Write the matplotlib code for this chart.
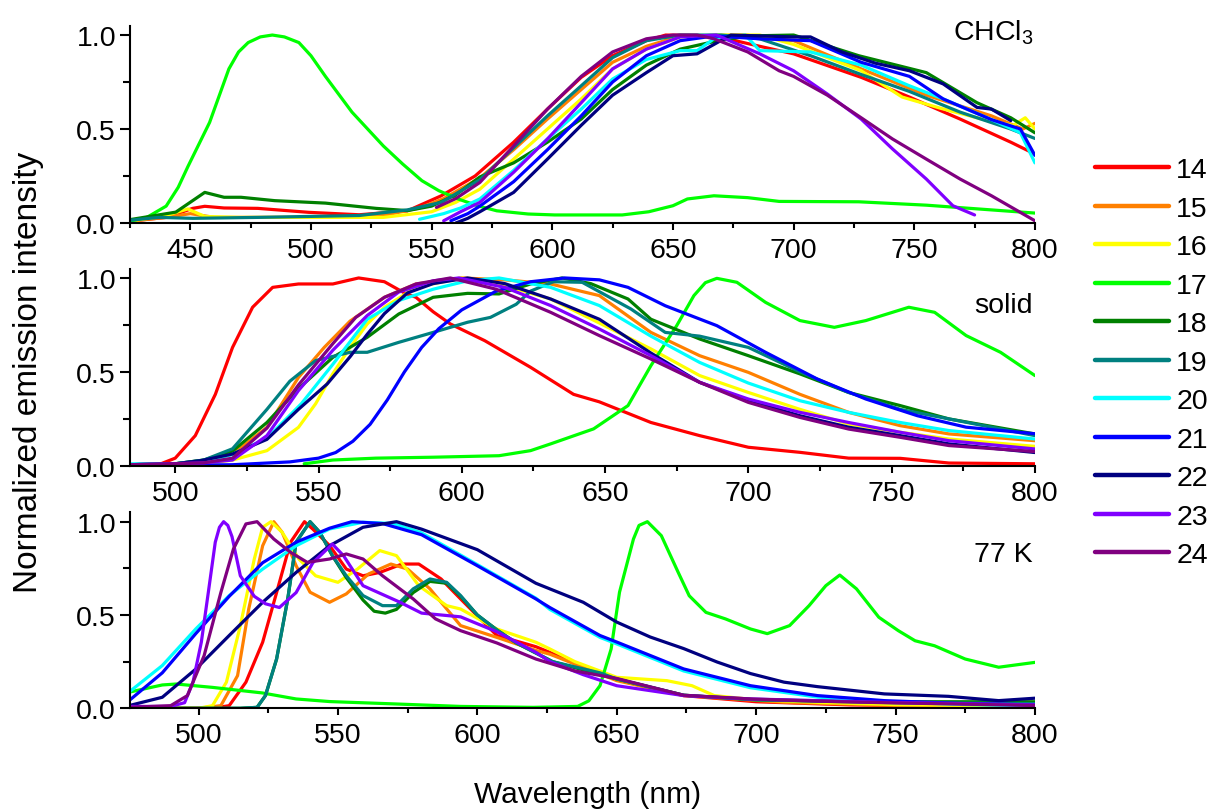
import matplotlib
matplotlib.use("Agg")
import matplotlib.pyplot as plt
from matplotlib.ticker import MultipleLocator, FormatStrFormatter
from matplotlib.lines import Line2D

plt.rcParams["font.family"] = ["Liberation Sans", "DejaVu Sans"]
plt.rcParams["mathtext.default"] = "regular"

labels = ["14", "15", "16", "17", "18", "19", "20", "21", "22", "23", "24"]
colors = ["#ff0000", "#ff8000", "#ffff00", "#00ff00", "#008000", "#008080",
          "#00ffff", "#0000ff", "#000080", "#8000ff", "#800080"]

# ---------------------------------------------------------------- CHCl3
c14_x = [425, 440, 451, 456, 464, 478, 499, 520, 540, 554, 568, 584, 598, 612, 625, 639, 647, 667, 686, 700, 728, 748, 769, 790, 800]
c14_y = [0.01, 0.03, 0.078, 0.089, 0.08, 0.078, 0.057, 0.044, 0.065, 0.145, 0.25, 0.43, 0.606, 0.775, 0.89, 0.97, 1.0, 0.996, 0.94, 0.9, 0.775, 0.67, 0.553, 0.43, 0.367]
c15_x = [425, 440, 450, 460, 500, 530, 545, 555, 570, 584, 598, 612, 625, 639, 653, 680, 700, 728, 755, 782, 795, 800]
c15_y = [0.01, 0.03, 0.05, 0.03, 0.03, 0.04, 0.08, 0.13, 0.24, 0.39, 0.553, 0.71, 0.855, 0.94, 0.995, 1.0, 0.97, 0.82, 0.68, 0.57, 0.5, 0.53]
c16_x = [425, 440, 449, 456, 470, 500, 530, 550, 560, 570, 584, 598, 612, 625, 639, 653, 670, 686, 700, 728, 745, 761, 782, 791, 796, 800]
c16_y = [0.01, 0.04, 0.075, 0.035, 0.03, 0.03, 0.03, 0.06, 0.11, 0.18, 0.34, 0.5, 0.66, 0.82, 0.925, 0.99, 1.0, 1.0, 0.95, 0.81, 0.67, 0.61, 0.54, 0.52, 0.56, 0.5]
c17_x = [425, 432, 440, 445, 449, 458, 466, 470, 474, 479, 484, 489, 495, 500, 506, 517, 530, 538, 546, 553, 561, 569, 577, 590, 601, 629, 640, 650, 656, 667, 681, 694, 727, 755, 800]
c17_y = [0.01, 0.03, 0.09, 0.19, 0.30, 0.535, 0.82, 0.91, 0.96, 0.99, 1.0, 0.99, 0.96, 0.89, 0.78, 0.59, 0.41, 0.314, 0.225, 0.172, 0.128, 0.092, 0.065, 0.048, 0.043, 0.043, 0.06, 0.092, 0.128, 0.145, 0.135, 0.115, 0.113, 0.095, 0.053]
c18_x = [425, 444, 456, 464, 471, 485, 506, 527, 540, 550, 560, 570, 584, 598, 612, 625, 639, 653, 667, 681, 700, 727, 755, 776, 790, 800]
c18_y = [0.018, 0.058, 0.163, 0.137, 0.137, 0.119, 0.106, 0.078, 0.066, 0.09, 0.15, 0.245, 0.32, 0.43, 0.553, 0.71, 0.84, 0.925, 0.965, 0.995, 1.0, 0.89, 0.80, 0.64, 0.56, 0.48]
c19_x = [425, 437, 451, 478, 520, 540, 554, 570, 584, 598, 612, 625, 639, 653, 670, 686, 707, 728, 748, 769, 790, 800]
c19_y = [0.015, 0.03, 0.025, 0.03, 0.04, 0.07, 0.11, 0.23, 0.40, 0.57, 0.73, 0.88, 0.97, 1.0, 1.0, 0.98, 0.89, 0.79, 0.70, 0.59, 0.5, 0.45]
c20_x = [545, 555, 562, 570, 584, 598, 612, 625, 639, 653, 660, 667, 680, 686, 707, 728, 748, 762, 782, 794, 800]
c20_y = [0.02, 0.05, 0.08, 0.128, 0.28, 0.447, 0.606, 0.766, 0.87, 0.917, 0.917, 0.98, 1.0, 0.917, 0.91, 0.84, 0.73, 0.66, 0.55, 0.48, 0.32]
c21_x = [558, 565, 570, 584, 598, 612, 625, 639, 653, 667, 686, 707, 728, 748, 762, 782, 794, 800]
c21_y = [0.012, 0.05, 0.09, 0.22, 0.39, 0.57, 0.75, 0.89, 0.97, 0.995, 0.98, 0.97, 0.855, 0.78, 0.66, 0.55, 0.5, 0.36]
c22_x = [560, 565, 570, 584, 598, 612, 625, 639, 650, 660, 667, 674, 700, 707, 720, 734, 748, 762, 776, 782, 790]
c22_y = [0.0, 0.025, 0.06, 0.163, 0.34, 0.52, 0.68, 0.80, 0.89, 0.9, 0.95, 1.0, 0.99, 0.99, 0.91, 0.85, 0.81, 0.74, 0.615, 0.606, 0.545]
c23_x = [555, 562, 570, 584, 598, 612, 625, 639, 653, 668, 686, 700, 714, 728, 741, 755, 766, 775]
c23_y = [0.012, 0.06, 0.11, 0.27, 0.447, 0.64, 0.82, 0.925, 0.99, 1.0, 0.9, 0.81, 0.686, 0.553, 0.394, 0.234, 0.092, 0.043]
c24_x = [552, 560, 570, 584, 598, 612, 625, 639, 650, 660, 667, 681, 694, 700, 714, 728, 741, 755, 769, 782, 800]
c24_y = [0.083, 0.13, 0.216, 0.41, 0.606, 0.78, 0.91, 0.98, 1.0, 1.0, 0.98, 0.91, 0.81, 0.78, 0.68, 0.56, 0.447, 0.34, 0.234, 0.145, 0.012]

# ---------------------------------------------------------------- solid
s14_x = [484, 495, 500, 507, 514, 520, 527, 534, 543, 555, 564, 573, 580, 584, 590, 596, 608, 624, 639, 648, 666, 683, 700, 718, 735, 753, 770, 800]
s14_y = [0.005, 0.01, 0.04, 0.16, 0.38, 0.63, 0.844, 0.95, 0.968, 0.968, 1.0, 0.98, 0.92, 0.897, 0.82, 0.755, 0.666, 0.524, 0.38, 0.34, 0.23, 0.16, 0.098, 0.071, 0.04, 0.039, 0.014, 0.01]
s15_x = [484, 500, 510, 520, 532, 543, 552, 561, 573, 584, 600, 615, 631, 648, 666, 683, 700, 718, 735, 753, 770, 800]
s15_y = [0.005, 0.01, 0.025, 0.062, 0.204, 0.47, 0.63, 0.77, 0.897, 0.968, 1.0, 0.99, 0.968, 0.906, 0.71, 0.586, 0.497, 0.38, 0.284, 0.213, 0.169, 0.133]
s16_x = [484, 510, 520, 532, 543, 549, 555, 561, 567, 573, 584, 600, 615, 631, 648, 666, 683, 700, 718, 735, 753, 770, 800]
s16_y = [0.003, 0.01, 0.03, 0.08, 0.204, 0.33, 0.49, 0.63, 0.755, 0.844, 0.95, 1.0, 0.96, 0.888, 0.76, 0.622, 0.48, 0.39, 0.30, 0.222, 0.178, 0.142, 0.103]
s17_x = [545, 555, 570, 590, 613, 624, 631, 646, 658, 666, 675, 681, 685, 689, 696, 706, 718, 730, 741, 756, 765, 776, 788, 800]
s17_y = [0.01, 0.03, 0.04, 0.045, 0.053, 0.08, 0.116, 0.196, 0.32, 0.533, 0.746, 0.906, 0.975, 0.998, 0.977, 0.87, 0.773, 0.737, 0.773, 0.844, 0.817, 0.693, 0.604, 0.48]
s18_x = [484, 500, 510, 520, 532, 543, 555, 567, 578, 590, 602, 613, 624, 635, 645, 658, 666, 683, 700, 718, 735, 753, 770, 800]
s18_y = [0.005, 0.01, 0.03, 0.078, 0.23, 0.41, 0.577, 0.684, 0.808, 0.897, 0.918, 0.915, 0.968, 1.0, 0.97, 0.888, 0.78, 0.675, 0.586, 0.489, 0.39, 0.32, 0.249, 0.169]
s19_x = [484, 500, 510, 520, 532, 540, 549, 561, 567, 578, 590, 602, 610, 619, 624, 632, 642, 659, 671, 683, 700, 718, 735, 753, 770, 800]
s19_y = [0.005, 0.01, 0.03, 0.09, 0.30, 0.45, 0.56, 0.604, 0.604, 0.657, 0.71, 0.764, 0.79, 0.86, 0.93, 0.98, 0.977, 0.835, 0.71, 0.69, 0.63, 0.50, 0.39, 0.30, 0.249, 0.16]
s20_x = [484, 500, 510, 520, 532, 544, 555, 567, 578, 590, 602, 613, 631, 648, 666, 683, 700, 718, 735, 753, 770, 800]
s20_y = [0.01, 0.01, 0.02, 0.06, 0.146, 0.33, 0.54, 0.78, 0.88, 0.94, 0.985, 1.0, 0.95, 0.853, 0.69, 0.55, 0.44, 0.346, 0.284, 0.23, 0.187, 0.142]
s21_x = [484, 520, 540, 550, 556, 562, 568, 574, 580, 586, 592, 600, 612, 624, 636, 648, 658, 671, 689, 706, 724, 741, 759, 776, 800]
s21_y = [0.0, 0.005, 0.02, 0.04, 0.07, 0.13, 0.22, 0.35, 0.5, 0.63, 0.73, 0.83, 0.93, 0.98, 1.0, 0.99, 0.95, 0.852, 0.746, 0.604, 0.462, 0.355, 0.266, 0.205, 0.17]
s22_x = [484, 500, 509, 520, 532, 543, 553, 561, 567, 573, 581, 590, 602, 615, 631, 648, 666, 683, 700, 718, 735, 753, 770, 800]
s22_y = [0.005, 0.01, 0.027, 0.062, 0.14, 0.30, 0.435, 0.58, 0.70, 0.81, 0.92, 0.97, 1.0, 0.97, 0.888, 0.78, 0.6, 0.444, 0.346, 0.266, 0.205, 0.16, 0.116, 0.07]
s23_x = [484, 500, 510, 520, 532, 543, 555, 567, 578, 590, 599, 615, 631, 648, 666, 683, 700, 718, 735, 753, 770, 800]
s23_y = [0.005, 0.01, 0.015, 0.03, 0.16, 0.40, 0.615, 0.80, 0.925, 0.985, 1.0, 0.95, 0.853, 0.728, 0.586, 0.444, 0.355, 0.284, 0.23, 0.178, 0.133, 0.089]
s24_x = [484, 500, 510, 520, 532, 543, 555, 563, 573, 584, 596, 612, 631, 648, 666, 683, 700, 718, 735, 753, 770, 800]
s24_y = [0.005, 0.01, 0.015, 0.04, 0.20, 0.43, 0.65, 0.79, 0.897, 0.968, 1.0, 0.94, 0.817, 0.693, 0.568, 0.444, 0.337, 0.257, 0.195, 0.151, 0.107, 0.075]

# ---------------------------------------------------------------- 77 K
k14_x = [475, 505, 511, 517, 523, 528, 533, 538, 541, 547, 553, 559, 565, 573, 579, 587, 594, 607, 621, 635, 650, 674, 700, 734, 800]
k14_y = [0.0, 0.0, 0.014, 0.14, 0.354, 0.62, 0.89, 1.0, 0.96, 0.872, 0.746, 0.71, 0.728, 0.773, 0.773, 0.693, 0.586, 0.39, 0.33, 0.245, 0.157, 0.068, 0.035, 0.018, 0.005]
k15_x = [475, 500, 508, 514, 518, 523, 527, 530, 535, 540, 547, 553, 561, 569, 575, 583, 594, 607, 621, 626, 650, 674, 710, 750, 800]
k15_y = [0.0, 0.0, 0.014, 0.175, 0.532, 0.871, 1.0, 0.943, 0.764, 0.622, 0.568, 0.613, 0.72, 0.773, 0.746, 0.64, 0.443, 0.38, 0.31, 0.29, 0.148, 0.068, 0.032, 0.015, 0.005]
k16_x = [475, 500, 505, 510, 515, 520, 523, 526, 530, 536, 542, 550, 557, 565, 571, 579, 589, 594, 607, 621, 626, 635, 650, 668, 677, 685, 700, 725, 750, 800]
k16_y = [0.0, 0.0, 0.014, 0.14, 0.443, 0.80, 0.97, 1.0, 0.943, 0.80, 0.71, 0.675, 0.746, 0.845, 0.818, 0.657, 0.55, 0.532, 0.425, 0.354, 0.318, 0.25, 0.166, 0.148, 0.121, 0.068, 0.045, 0.03, 0.02, 0.01]
k17_x = [475, 487, 492, 505, 523, 535, 547, 571, 594, 620, 636, 640, 644, 648, 651, 656, 658, 661, 663, 666, 672, 676, 682, 689, 698, 704, 712, 719, 725, 730, 736, 744, 751, 757, 764, 775, 787, 800]
k17_y = [0.086, 0.125, 0.13, 0.112, 0.082, 0.05, 0.036, 0.023, 0.01, 0.005, 0.01, 0.04, 0.121, 0.318, 0.622, 0.907, 0.98, 1.0, 0.97, 0.925, 0.73, 0.603, 0.514, 0.479, 0.425, 0.40, 0.443, 0.55, 0.657, 0.714, 0.64, 0.488, 0.416, 0.362, 0.335, 0.264, 0.22, 0.246]
k18_x = [475, 515, 521, 524, 528, 532, 535, 540, 543.5, 548, 553, 559, 563, 567, 571, 577, 583, 589, 594, 600, 607, 614, 627, 650, 674, 700, 750, 800]
k18_y = [0.0, 0.0, 0.005, 0.068, 0.264, 0.586, 0.89, 1.0, 0.943, 0.818, 0.70, 0.58, 0.52, 0.51, 0.53, 0.62, 0.68, 0.67, 0.60, 0.50, 0.42, 0.35, 0.25, 0.157, 0.07, 0.045, 0.035, 0.035]
k19_x = [475, 515, 521, 524, 528, 532, 535, 540, 543.5, 548, 553, 559, 566, 571, 577, 583, 589, 594, 600, 607, 614, 627, 644, 650, 674, 700, 750, 800]
k19_y = [0.0, 0.0, 0.005, 0.068, 0.264, 0.586, 0.89, 1.0, 0.943, 0.818, 0.71, 0.604, 0.55, 0.55, 0.64, 0.693, 0.675, 0.604, 0.50, 0.42, 0.35, 0.25, 0.19, 0.157, 0.07, 0.045, 0.03, 0.025]
k20_x = [475, 487, 499, 511, 523, 535, 547, 559, 570, 580, 600, 621, 626, 644, 650, 674, 698, 722, 746, 775, 800]
k20_y = [0.086, 0.229, 0.425, 0.604, 0.746, 0.871, 0.961, 0.997, 0.99, 0.94, 0.77, 0.59, 0.53, 0.38, 0.345, 0.2, 0.11, 0.06, 0.035, 0.02, 0.012]
k21_x = [475, 487, 499, 511, 523, 535, 547, 555, 566, 580, 600, 621, 626, 644, 650, 674, 698, 722, 746, 775, 800]
k21_y = [0.04, 0.19, 0.40, 0.60, 0.78, 0.89, 0.965, 1.0, 0.99, 0.93, 0.764, 0.586, 0.54, 0.39, 0.355, 0.211, 0.121, 0.068, 0.041, 0.025, 0.018]
k22_x = [475, 487, 499, 511, 523, 535, 547, 559, 571, 580, 600, 621, 638, 650, 662, 674, 686, 698, 710, 722, 746, 769, 787, 800]
k22_y = [0.014, 0.059, 0.21, 0.39, 0.568, 0.728, 0.871, 0.97, 1.0, 0.96, 0.85, 0.67, 0.568, 0.462, 0.382, 0.32, 0.248, 0.186, 0.14, 0.116, 0.077, 0.064, 0.041, 0.054]
k23_x = [475, 490, 495, 498, 501, 503.5, 506, 507.5, 509, 510.5, 512, 515, 520, 524, 529, 535, 541, 548, 552, 559, 566, 572, 580, 594, 607, 621, 626, 638, 650, 674, 698, 722, 746, 800]
k23_y = [0.01, 0.01, 0.03, 0.14, 0.354, 0.62, 0.89, 0.97, 1.0, 0.98, 0.92, 0.71, 0.60, 0.56, 0.54, 0.62, 0.78, 0.88, 0.818, 0.657, 0.61, 0.57, 0.51, 0.49, 0.41, 0.30, 0.25, 0.18, 0.121, 0.068, 0.05, 0.041, 0.032, 0.018]
k24_x = [475, 490, 496, 502, 508, 512.5, 517, 521, 527, 533, 539, 547, 553, 559, 566, 577, 585, 594, 607, 621, 635, 650, 674, 698, 722, 746, 800]
k24_y = [0.005, 0.014, 0.068, 0.282, 0.62, 0.853, 0.988, 1.0, 0.907, 0.836, 0.782, 0.80, 0.827, 0.80, 0.71, 0.586, 0.479, 0.416, 0.35, 0.264, 0.2, 0.16, 0.07, 0.05, 0.038, 0.03, 0.015]

chcl3 = [(c14_x, c14_y), (c15_x, c15_y), (c16_x, c16_y), (c17_x, c17_y), (c18_x, c18_y), (c19_x, c19_y),
         (c20_x, c20_y), (c21_x, c21_y), (c22_x, c22_y), (c23_x, c23_y), (c24_x, c24_y)]
solid = [(s14_x, s14_y), (s15_x, s15_y), (s16_x, s16_y), (s17_x, s17_y), (s18_x, s18_y), (s19_x, s19_y),
         (s20_x, s20_y), (s21_x, s21_y), (s22_x, s22_y), (s23_x, s23_y), (s24_x, s24_y)]
k77 = [(k14_x, k14_y), (k15_x, k15_y), (k16_x, k16_y), (k17_x, k17_y), (k18_x, k18_y), (k19_x, k19_y),
       (k20_x, k20_y), (k21_x, k21_y), (k22_x, k22_y), (k23_x, k23_y), (k24_x, k24_y)]

# data, x-limits, tag, tag baseline (data y), axes rect
panels = [
    (chcl3, (425, 800), r"CHCl$_3$", 0.975, [0.1074, 0.7241, 0.7479, 0.2431]),
    (solid, (484.2, 800), "solid", 0.82, [0.1074, 0.4253, 0.7479, 0.2427]),
    (k77, (475.4, 800), "77 K", 0.79, [0.1074, 0.1265, 0.7479, 0.2413]),
]

FS = 20.5
fig = plt.figure(figsize=(12.1, 8.12), dpi=100)
for data, xlim, tag, tag_y, rect in panels:
    ax = fig.add_axes(rect)
    for (x, y), c in zip(data, colors):
        ax.plot(x, y, color=c, lw=2.3, solid_capstyle="round", solid_joinstyle="round")
    ax.set_xlim(*xlim)
    ax.set_ylim(0, 1.05)
    for s in ("top", "right"):
        ax.spines[s].set_visible(False)
    for s in ("left", "bottom"):
        ax.spines[s].set_linewidth(1.5)
    ax.xaxis.set_major_locator(MultipleLocator(50))
    ax.xaxis.set_minor_locator(MultipleLocator(25))
    ax.yaxis.set_major_locator(MultipleLocator(0.5))
    ax.yaxis.set_minor_locator(MultipleLocator(0.25))
    ax.yaxis.set_major_formatter(FormatStrFormatter("%.1f"))
    ax.tick_params(which="both", width=1.5, labelsize=FS, direction="out")
    ax.tick_params(axis="x", which="major", length=5, pad=5)
    ax.tick_params(axis="x", which="minor", length=3.5)
    ax.tick_params(axis="y", which="major", length=7, pad=3)
    ax.tick_params(axis="y", which="minor", length=5)
    ax.text(799.3, tag_y, tag, ha="right", va="baseline", fontsize=FS)

fig.text(0.0236, 0.542, "Normalized emission intensity", rotation=90,
         ha="center", va="center", fontsize=24)
fig.text(0.4855, 0.011, "Wavelength (nm)", ha="center", va="baseline", fontsize=21.5)

handles = [Line2D([], [], color=c, lw=3.2, solid_capstyle="round") for c in colors]
fig.legend(handles, labels, loc="center left", bbox_to_anchor=(0.905, 0.552),
           frameon=False, fontsize=FS, handlelength=2.6, handletextpad=0.25,
           labelspacing=0.44, borderpad=0, borderaxespad=0)

fig.savefig("out.png", dpi=100)
